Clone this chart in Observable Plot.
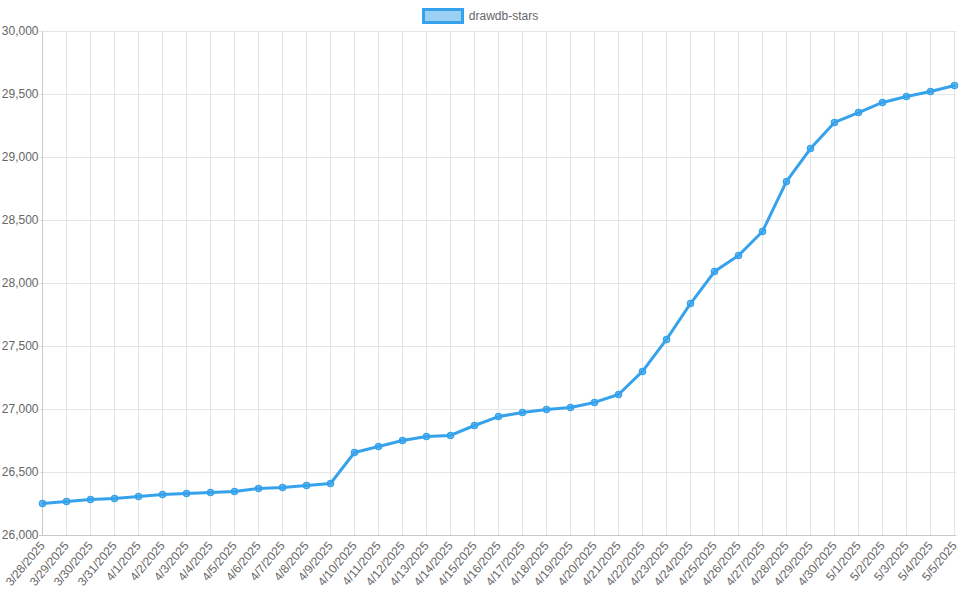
<!DOCTYPE html>
<html><head><meta charset="utf-8">
<script src="https://cdn.jsdelivr.net/npm/d3@7"></script>
<script src="https://cdn.jsdelivr.net/npm/@observablehq/plot@0.6"></script>
<style>
body{margin:0;background:#fff;font-family:"Liberation Sans",Arial,sans-serif;}
#wrap{position:relative;width:960px;height:600px;}
#legend{position:absolute;top:8px;left:0;width:960px;text-align:center;font-size:12px;color:#666;}
#legend span.box{display:inline-block;height:10px;background:rgba(54,162,235,0.5);border:3px solid #36a2eb;vertical-align:middle;margin-right:5px;box-sizing:content-box;width:36px;}
</style></head><body>
<div id="wrap"><div id="chart"></div><div id="legend"><span class="box"></span><span style="vertical-align:middle">drawdb-stars</span></div></div>
<script>
const dates = ["3/28/2025","3/29/2025","3/30/2025","3/31/2025","4/1/2025","4/2/2025","4/3/2025","4/4/2025","4/5/2025","4/6/2025","4/7/2025","4/8/2025","4/9/2025","4/10/2025","4/11/2025","4/12/2025","4/13/2025","4/14/2025","4/15/2025","4/16/2025","4/17/2025","4/18/2025","4/19/2025","4/20/2025","4/21/2025","4/22/2025","4/23/2025","4/24/2025","4/25/2025","4/26/2025","4/27/2025","4/28/2025","4/29/2025","4/30/2025","5/1/2025","5/2/2025","5/3/2025","5/4/2025","5/5/2025"];
const stars = [26254,26270,26286,26294,26310,26325,26333,26341,26349,26373,26381,26397,26413,26659,26706,26754,26786,26794,26873,26944,26976,27000,27016,27056,27119,27302,27556,27841,28095,28222,28413,28810,29071,29278,29357,29437,29484,29524,29571];
const yTicks = d3.range(26000, 30001, 500);
const data = dates.map((d,i)=>({date:d, stars:stars[i]}));
const chart = Plot.plot({
  width:960, height:600,
  marginLeft:39, marginRight:4, marginTop:31, marginBottom:65,
  style:{fontFamily:"Liberation Sans, Arial, sans-serif", fontSize:"12px", color:"#666"},
  x:{type:"point", domain:dates, padding:0, label:null, tickRotate:-50, tickSize:0, tickPadding:8},
  y:{domain:[26000,30000], ticks:yTicks, tickFormat:d3.format(","), label:null, tickSize:0, tickPadding:1},
  marks:[
    Plot.ruleX(dates,{x:d=>d, stroke:"#e5e5e5"}),
    Plot.ruleY(yTicks,{y:d=>d, stroke:"#e5e5e5"}),
    Plot.ruleX([dates[0]],{x:d=>d, stroke:"#c8c8c8"}),
    Plot.ruleY([26000],{y:d=>d, stroke:"#c8c8c8"}),
    Plot.line(data,{x:"date", y:"stars", stroke:"#36a2eb", strokeWidth:3}),
    Plot.dot(data,{x:"date", y:"stars", r:3, fill:"rgba(54,162,235,0.5)", stroke:"#36a2eb", strokeWidth:1.5})
  ]
});
document.getElementById("chart").appendChild(chart);
</script></body></html>
